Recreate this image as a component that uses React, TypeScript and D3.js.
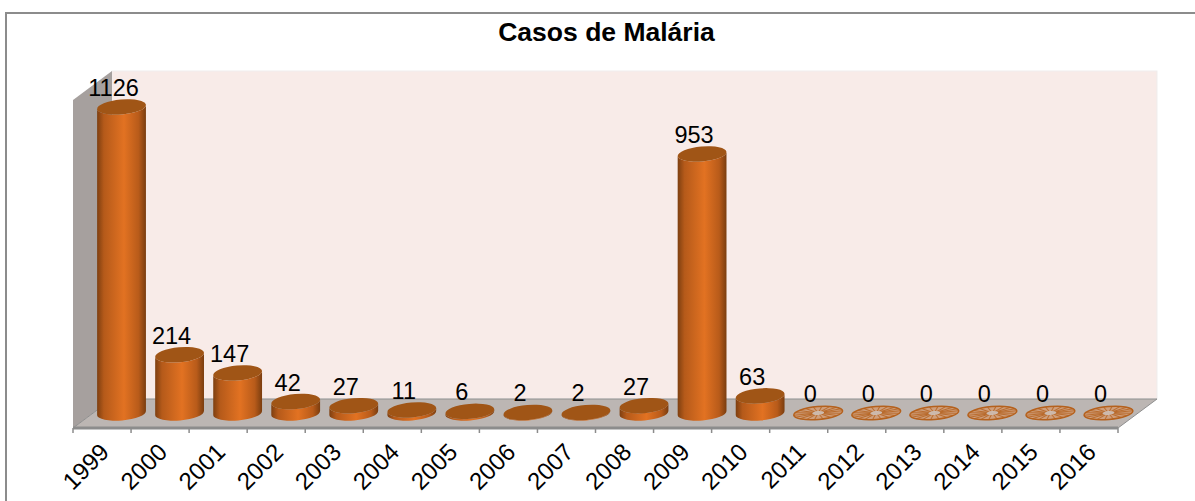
import React from "react";
import * as d3 from "d3";

const years = ["1999","2000","2001","2002","2003","2004","2005","2006","2007","2008","2009","2010","2011","2012","2013","2014","2015","2016"];
const cases = [1126,214,147,42,27,11,6,2,2,27,953,63,0,0,0,0,0,0];

const W = 1195, H = 501;
const x = d3.scaleBand<string>().domain(years).range([73, 1118]);
const y = d3.scaleLinear().domain([0, 1126]).range([413, 107]);
const depth = { x: 39, y: 29 };
const plot = { left: 73, right: 1118, top: 100, bottom: 428 };
const rx = 24.5, ry = 7.5, tilt = -5;
const rad = (tilt * Math.PI) / 180;
const dx = rx * Math.cos(rad), dy = rx * Math.sin(rad);

function App() {
  const spokes = d3.range(18).map((i) => (i * Math.PI) / 9);
  return (
    <svg width={W} height={H} style={{ position: "absolute", left: 0, top: 0 }} fontFamily="'Liberation Sans', Arial, sans-serif">
      <defs>
        <linearGradient id="cyl" x1="0" x2="1" y1="0" y2="0">
          <stop offset="0" stopColor="#7e3f10" />
          <stop offset="0.14" stopColor="#b55a1a" />
          <stop offset="0.55" stopColor="#e27222" />
          <stop offset="0.85" stopColor="#b85b1a" />
          <stop offset="1" stopColor="#7a3d0f" />
        </linearGradient>
      </defs>
      <rect x={0} y={0} width={W} height={H} fill="#fff" />
      <path d={`M6,${H}V13H${W}`} fill="none" stroke="#8c8c8c" strokeWidth={2} />

      <text x={606.5} y={41} textAnchor="middle" fontSize={26.5} fontWeight="bold" fill="#000">Casos de Malária</text>

      {/* paredes e piso */}
      <rect x={plot.left + depth.x} y={plot.top - depth.y} width={plot.right - plot.left} height={plot.bottom - plot.top} fill="#f8ebe8" stroke="#efeded" strokeWidth={1} />
      <path d={`M${plot.left},${plot.top}L${plot.left + depth.x},${plot.top - depth.y}V${plot.bottom - depth.y}L${plot.left},${plot.bottom}Z`} fill="#a6a09e" />
      <path d={`M${plot.left},${plot.bottom}L${plot.left + depth.x},${plot.bottom - depth.y}H${plot.right + depth.x}L${plot.right},${plot.bottom}Z`} fill="#bcb6b3" stroke="#8f8f8f" strokeWidth={1} />
      <line x1={plot.left} x2={plot.right} y1={plot.bottom} y2={plot.bottom} stroke="#8c8c8c" strokeWidth={3} />

      {/* ticks */}
      {[...years.map((d) => x(d)!), plot.right].map((t, i) => (
        <line key={i} x1={t} x2={t} y1={plot.bottom} y2={plot.bottom + 5} stroke="#8c8c8c" strokeWidth={1.5} />
      ))}

      {years.map((yr, i) => {
        const cx = x(yr)! + x.bandwidth() / 2 + 19.5;
        const base = y(0);
        const top = y(cases[i]);
        const v = cases[i];
        return (
          <g key={yr}>
            {v > 0 ? (
              <>
                <path
                  d={`M${cx - dx},${top - dy}L${cx - dx},${base - dy}A${rx},${ry} ${tilt} 0 0 ${cx + dx},${base + dy}L${cx + dx},${top + dy}A${rx},${ry} ${tilt} 0 1 ${cx - dx},${top - dy}Z`}
                  fill="url(#cyl)"
                />
                <ellipse cx={cx} cy={top} rx={rx} ry={ry} transform={`rotate(${tilt} ${cx} ${top})`} fill="#a05516" />
              </>
            ) : (
              <g transform={`rotate(${tilt} ${cx} ${top})`}>
                <ellipse cx={cx} cy={top} rx={rx} ry={ry - 1} fill="#cf9f7c" stroke="#b5611d" strokeWidth={1.5} />
                {spokes.map((a, j) => (
                  <line key={j} x1={cx} y1={top} x2={cx + rx * Math.cos(a)} y2={top + (ry - 1) * Math.sin(a)} stroke="#b5611d" strokeWidth={1} opacity={0.8} />
                ))}
                <ellipse cx={cx} cy={top} rx={6} ry={2} fill="#cfc3bb" opacity={0.9} />
              </g>
            )}
            <text x={cx - 8} y={top - 11} textAnchor="middle" fontSize={23.5} fill="#000">{v}</text>
            <text
              transform={`translate(${x(yr)! + x.bandwidth() / 2 + 4},${plot.bottom + 21}) rotate(-45)`}
              textAnchor="end"
              dominantBaseline="middle"
              fontSize={24}
              fill="#000"
            >
              {yr}
            </text>
          </g>
        );
      })}
    </svg>
  );
}

export default App;
